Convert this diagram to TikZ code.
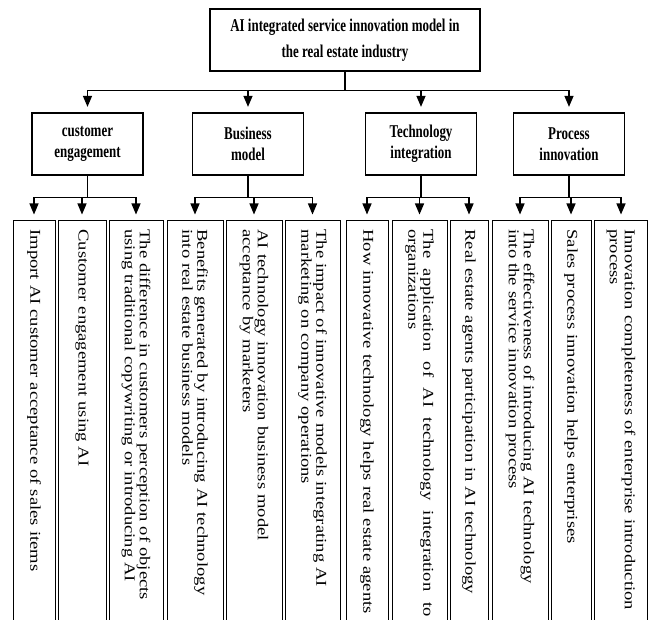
\documentclass[tikz,border=0pt]{standalone}
\usepackage{fontspec}
\setmainfont{Liberation Serif}
\newfontfamily\headfont[FakeStretch=0.72]{Liberation Serif}
\newfontfamily\leaffont[FakeStretch=1.24]{Liberation Serif}
\usetikzlibrary{arrows.meta}
\hyphenpenalty=10000
\begin{document}
\begin{tikzpicture}[x=1pt,y=1pt,
  topbox/.style={draw=drawColor,line width=1.3pt,align=center,minimum width=270pt,minimum height=62pt,
    font=\headfont\bfseries\fontsize{18}{26}\selectfont},
  midbox/.style={draw=drawColor,line width=1.3pt,align=center,minimum width=111pt,minimum height=62pt,
    font=\headfont\bfseries\fontsize{18}{21}\selectfont},
  leafbox/.style={draw=drawColor,line width=0.9pt,rotate=-90,anchor=west,inner xsep=9pt,inner ysep=2pt,
    text width=395pt,align=left,font=\leaffont\fontsize{15}{15}\selectfont},
  conn/.style={draw=drawColor,line width=1.3pt},
  arr/.style={conn,-{Triangle[length=11pt,width=9pt]},shorten >=5.5pt}]
\definecolor{fillColor}{RGB}{255,255,255}
\definecolor{drawColor}{RGB}{0,0,0}
\path[use as bounding box,fill=fillColor] (0,0) rectangle (649,620);
\clip (0,0) rectangle (649,620);

\node[topbox] (root) at (345,580) {AI integrated service innovation model in\\the real estate industry};

\node[midbox] (ce) at ( 87.5,476) {customer\\engagement};
\node[midbox] (bm) at (248.0,476) {Business\\model};
\node[midbox] (ti) at (421.0,476) {Technology\\integration};
\node[midbox] (pi) at (569.0,476) {Process\\innovation};

\node[leafbox,minimum height=42pt] (ce1) at ( 34.0,400) {Import AI customer acceptance of sales items};
\node[leafbox,minimum height=48pt] (ce2) at ( 82.0,400) {Customer engagement using AI};
\node[leafbox,minimum height=54pt] (ce3) at (136.0,400) {The difference in customers perception of objects\\using traditional copywriting or introducing AI};

\node[leafbox,minimum height=56pt] (bm1) at (195.0,400) {Benefits generated by introducing AI technology\\into real estate business models};
\node[leafbox,minimum height=56pt] (bm2) at (254.0,400) {AI technology innovation business model\\acceptance by marketers};
\node[leafbox,minimum height=55pt] (bm3) at (312.5,400) {The impact of innovative models integrating AI\\marketing on company operations};

\node[leafbox,minimum height=42pt] (ti1) at (367.0,400) {How innovative technology helps real estate agents};
\node[leafbox,minimum height=55pt,text width=387pt,align=justify] (ti2) at (419.5,400) {The application of AI technology integration to \mbox{organizations}};
\node[leafbox,minimum height=38pt] (ti3) at (469.0,400) {Real estate agents participation in AI technology};

\node[leafbox,minimum height=56pt] (pi1) at (520.0,400) {The effectiveness of introducing AI technology\\into the service innovation process};
\node[leafbox,minimum height=40pt] (pi2) at (571.0,400) {Sales process innovation helps enterprises};
\node[leafbox,minimum height=53pt] (pi3) at (621.0,400) {Innovation completeness of enterprise introduction\\process};

\draw[conn] (root.south) -- ++(0,-19) coordinate (rootbus);
\draw[arr] (rootbus) -| (ce.north);
\draw[arr] (rootbus) -| (bm.north);
\draw[arr] (rootbus) -| (ti.north);
\draw[arr] (rootbus) -| (pi.north);

\foreach \g in {ce,bm,ti,pi}{
  \draw[conn] (\g.south) -- ++(0,-22) coordinate (\g bus);
  \foreach \i in {1,2,3}
    \draw[arr] (\g bus) -| (\g\i.west);
}
\end{tikzpicture}
\end{document}
